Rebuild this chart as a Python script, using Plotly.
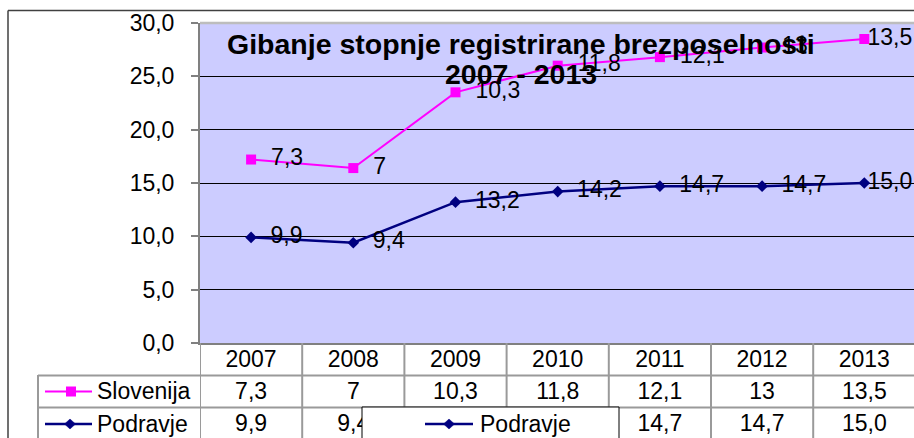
import plotly.graph_objects as go

# ---------------- data ----------------
years = ["2007", "2008", "2009", "2010", "2011", "2012", "2013"]
slovenija = [7.3, 7, 10.3, 11.8, 12.1, 13, 13.5]
podravje = [9.9, 9.4, 13.2, 14.2, 14.7, 14.7, 15.0]
y_ticks = [0, 5, 10, 15, 20, 25, 30]
title_line1 = "Gibanje stopnje registrirane brezposelnosti"
title_line2 = "2007 - 2013"
series_names = ["Slovenija", "Podravje"]

slov_lbl = [format(v, "g").replace(".", ",") for v in slovenija]
podr_lbl = [f"{v:.1f}".replace(".", ",") for v in podravje]

# ---------------- helpers ----------------
W, H = 914, 438


def px(x):
    return x / W


def py(y):
    return 1 - y / H


FONT = "Liberation Sans, Arial, Helvetica, sans-serif"
MAG = "#FF00FF"
NAVY = "#000080"
GRID_T = "#9a9a9a"
NB = "\u00a0"


def pad(lbls):
    # labels to the right of the point; last one pulled in so it stays inside
    return [NB * 2 + t for t in lbls[:-1]] + [NB * 8 + lbls[-1]]


positions = ["middle right"] * (len(years) - 1) + ["middle center"]

fig = go.Figure()

# stacked lines (as in the original stacked line chart)
fig.add_trace(go.Scatter(
    x=years, y=podravje, name=series_names[1], stackgroup="s", fill="none",
    mode="lines+markers+text",
    line=dict(color=NAVY, width=2.5),
    marker=dict(symbol="diamond", size=9, color=NAVY),
    text=pad(podr_lbl), textposition=positions,
    textfont=dict(size=23, color="black", family=FONT),
    cliponaxis=False, hoverinfo="skip"))
fig.add_trace(go.Scatter(
    x=years, y=slovenija, name=series_names[0], stackgroup="s", fill="none",
    mode="lines+markers+text",
    line=dict(color=MAG, width=2),
    marker=dict(symbol="square", size=10, color=MAG),
    text=pad(slov_lbl), textposition=positions,
    textfont=dict(size=23, color="black", family=FONT),
    cliponaxis=False, hoverinfo="skip"))

# data table text (rows: header, Slovenija, Podravje)
for row, labels in enumerate([years, slov_lbl, podr_lbl]):
    fig.add_trace(go.Scatter(
        x=years, y=[row + 0.5] * len(years), xaxis="x", yaxis="y2",
        mode="text", text=labels, textposition="middle center",
        textfont=dict(size=23, color="black", family=FONT),
        cliponaxis=False, showlegend=False, hoverinfo="skip"))

shapes = []
# plot area background
shapes.append(dict(type="rect", xref="paper", yref="paper", x0=px(200), x1=1,
                   y0=py(343), y1=py(23), fillcolor="#CCCCFF",
                   line=dict(width=0), layer="below"))
# plot area top border
shapes.append(dict(type="line", xref="paper", yref="paper", x0=px(200), x1=1,
                   y0=py(23), y1=py(23), line=dict(color="#BDBDBD", width=2.5),
                   layer="above"))
# outer chart frame
shapes.append(dict(type="line", xref="paper", yref="paper", x0=px(8), x1=1,
                   y0=py(10.5), y1=py(10.5), line=dict(color="#404040", width=1.5)))
shapes.append(dict(type="line", xref="paper", yref="paper", x0=px(8), x1=px(8),
                   y0=py(10.5), y1=0, line=dict(color="#404040", width=1.5)))
# table grid: horizontal
for yy in (375.5, 407.5):
    shapes.append(dict(type="line", xref="paper", yref="paper", x0=px(38), x1=1,
                       y0=py(yy), y1=py(yy), line=dict(color=GRID_T, width=2),
                       layer="above"))
# table grid: vertical (category boundaries)
for k in range(len(years)):
    shapes.append(dict(type="line", xref="x", yref="paper", x0=k - 0.5, x1=k - 0.5,
                       y0=py(343), y1=0, line=dict(color=GRID_T, width=2),
                       layer="above"))
shapes.append(dict(type="line", xref="paper", yref="paper", x0=px(38), x1=px(38),
                   y0=py(375), y1=0, line=dict(color=GRID_T, width=2), layer="above"))


def diamond(cx, cy, hw, hh, color):
    path = (f"M {px(cx)},{py(cy - hh)} L {px(cx + hw)},{py(cy)} "
            f"L {px(cx)},{py(cy + hh)} L {px(cx - hw)},{py(cy)} Z")
    return dict(type="path", xref="paper", yref="paper", path=path,
                fillcolor=color, line=dict(color=color, width=0.5), layer="above")


# legend keys in the table
shapes.append(dict(type="line", xref="paper", yref="paper", x0=px(45), x1=px(92),
                   y0=py(391.5), y1=py(391.5), line=dict(color=MAG, width=2), layer="above"))
shapes.append(dict(type="rect", xref="paper", yref="paper", x0=px(66), x1=px(76),
                   y0=py(396.5), y1=py(386.5), fillcolor=MAG, line=dict(width=0),
                   layer="above"))
shapes.append(dict(type="line", xref="paper", yref="paper", x0=px(45), x1=px(92),
                   y0=py(424), y1=py(424), line=dict(color=NAVY, width=2.5), layer="above"))
shapes.append(diamond(70, 424, 5.5, 5, NAVY))

# overlapping legend box
shapes.append(dict(type="rect", xref="paper", yref="paper", x0=px(362), x1=px(619),
                   y0=py(445), y1=py(407), fillcolor="white",
                   line=dict(color="black", width=1), layer="above"))
shapes.append(dict(type="line", xref="paper", yref="paper", x0=px(425), x1=px(473),
                   y0=py(424), y1=py(424), line=dict(color=NAVY, width=2.5), layer="above"))
shapes.append(diamond(449, 424, 5.5, 5, NAVY))

annotations = [
    dict(text=f"<b>{title_line1}</b>", x=px(521), y=py(44), xref="paper", yref="paper",
         xanchor="center", yanchor="middle", showarrow=False,
         font=dict(size=28.5, color="black", family=FONT)),
    dict(text=f"<b>{title_line2}</b>", x=px(521), y=py(74), xref="paper", yref="paper",
         xanchor="center", yanchor="middle", showarrow=False,
         font=dict(size=28.5, color="black", family=FONT)),
    dict(text=series_names[0], x=px(95), y=py(391), xref="paper", yref="paper",
         xanchor="left", yanchor="middle", showarrow=False,
         font=dict(size=23, color="black", family=FONT)),
    dict(text=series_names[1], x=px(95), y=py(424), xref="paper", yref="paper",
         xanchor="left", yanchor="middle", showarrow=False,
         font=dict(size=23, color="black", family=FONT)),
    dict(text=series_names[1], x=px(478), y=py(424), xref="paper", yref="paper",
         xanchor="left", yanchor="middle", showarrow=False,
         font=dict(size=23, color="black", family=FONT)),
]

cell = 102.2
fig.update_layout(
    template="none",
    width=W, height=H, margin=dict(l=0, r=0, t=0, b=0, pad=0, autoexpand=False),
    autosize=False,
    paper_bgcolor="white", plot_bgcolor="rgba(0,0,0,0)",
    showlegend=False, separators=", ",
    font=dict(family=FONT, size=23, color="black"),
    xaxis=dict(domain=[px(200), 1], range=[-0.5, -0.5 + (W - 200) / cell],
               type="category", showgrid=False, zeroline=False, automargin=False,
               showline=True, linecolor="#808080", linewidth=2,
               showticklabels=False, ticks="", fixedrange=True),
    yaxis=dict(domain=[py(343), py(23)], range=[0, 30], tickvals=y_ticks,
               tickformat=".1f", ticks="outside", ticklen=7, tickcolor="#808080",
               tickwidth=1.5, showline=True, linecolor="#808080", linewidth=2,
               gridcolor="black", gridwidth=1, zeroline=False, automargin=False,
               ticklabelstandoff=12,
               tickfont=dict(size=23, color="black", family=FONT), fixedrange=True),
    yaxis2=dict(domain=[0, py(343)], range=[(95 - 2.5) / 32, -2.5 / 32],
                visible=False, anchor="x", fixedrange=True, automargin=False),
    shapes=shapes, annotations=annotations,
)

fig.write_html(
    "out.html",
    config={"responsive": False, "displayModeBar": False},
    post_script="document.body.style.margin='0';document.body.style.overflow='hidden';",
)
